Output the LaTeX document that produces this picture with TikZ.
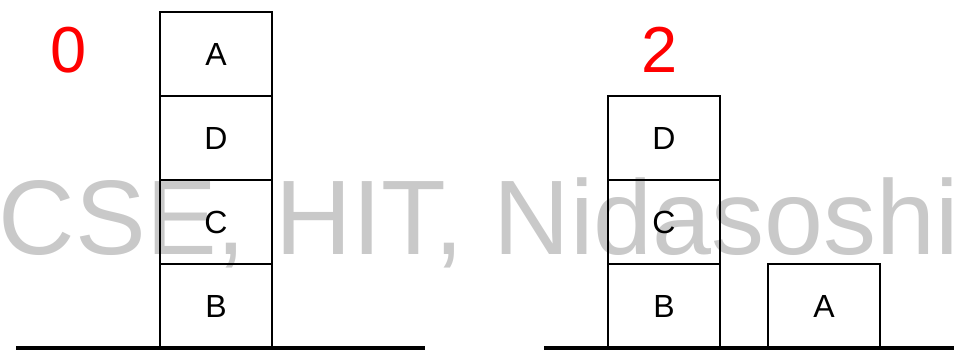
\documentclass[tikz,border=0pt]{standalone}
\usepackage{fontspec}
\setmainfont{Liberation Sans}
\usetikzlibrary{positioning}

\begin{document}
\begin{tikzpicture}[x=1pt,y=-1pt,node distance=0pt,
    block/.style={rectangle,draw,line width=2.2pt,minimum width=112pt,minimum height=84pt,
                  inner sep=0pt,outer sep=0pt,font=\fontsize{32}{32}\selectfont},
    state num/.style={text=red,font=\fontsize{65}{65}\selectfont},
    watermark/.style={text=black!21,anchor=base,font=\fontsize{106}{106}\selectfont},
    ground/.style={line width=3.5pt}]

  \useasboundingbox (0,0) rectangle (960,357);

  \node[watermark] (wm) at (479,254) {CSE, HIT, Nidasoshi};

  % state 0
  \node[state num] (s0) at (69,50) {0};
  \node[block] (b0) at (216,306) {B};
  \node[block] (c0) [above=of b0] {C};
  \node[block] (d0) [above=of c0] {D};
  \node[block] (a0) [above=of d0] {A};
  \coordinate (g0l) at (16,348);
  \coordinate (g0r) at (425,348);
  \draw[ground] (g0l) -- (g0r);

  % state 2
  \node[state num] (s2) at (660,50) {2};
  \node[block] (b2) at (664,306) {B};
  \node[block] (c2) [above=of b2] {C};
  \node[block] (d2) [above=of c2] {D};
  \node[block] (a2) at (824,306) {A};
  \coordinate (g2l) at (544,348);
  \coordinate (g2r) at (954,348);
  \draw[ground] (g2l) -- (g2r);
\end{tikzpicture}
\end{document}
